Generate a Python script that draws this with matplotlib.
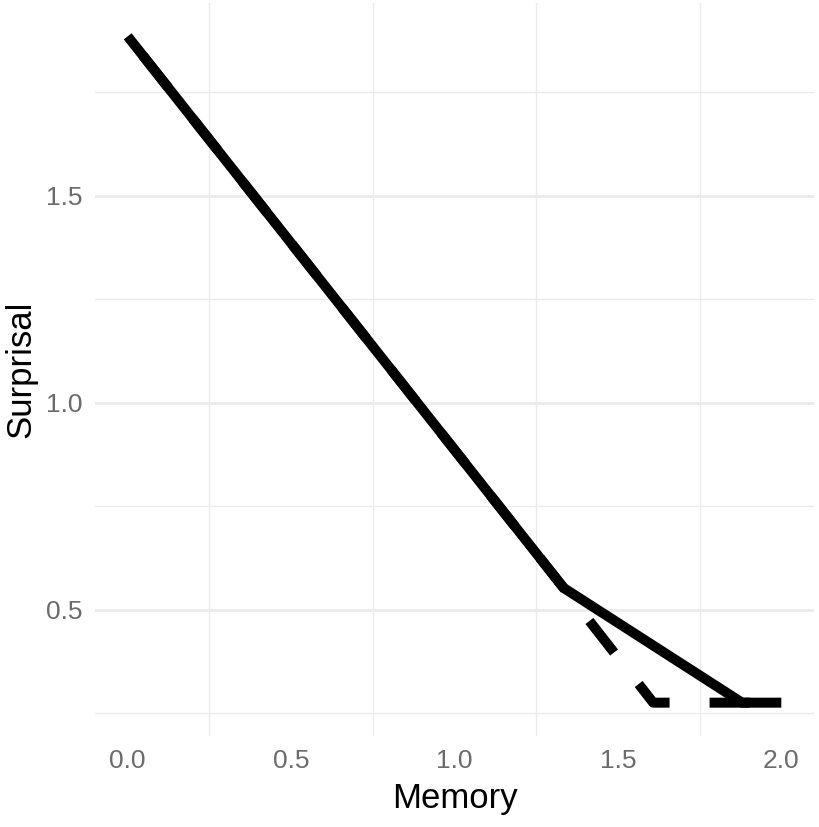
import matplotlib
matplotlib.use("Agg")
import matplotlib.pyplot as plt

# --- dados ---
mem_solid = [0.0, 1.334, 1.88, 2.0]
surp_solid = [1.885, 0.553, 0.276, 0.276]

mem_dash = [0.0, 1.334, 1.608, 2.0]
surp_dash = [1.885, 0.553, 0.276, 0.276]

x_ticks = [0.0, 0.5, 1.0, 1.5, 2.0]
x_labels = ["0.0", "0.5", "1.0", "1.5", "2.0"]
y_ticks = [0.5, 1.0, 1.5]
y_labels = ["0.5", "1.0", "1.5"]

plt.rcParams['font.family'] = ['Liberation Sans', 'DejaVu Sans']

fig = plt.figure(figsize=(8.19, 8.27), dpi=100)
ax = fig.add_axes([95 / 819, 1 - 736 / 827, (814 - 95) / 819, (736 - 3) / 827])

# linhas de grade (estilo theme_minimal)
grid_col = "#EBEBEB"
for yv in [0.25, 0.75, 1.25, 1.75]:
    ax.axhline(yv, color=grid_col, lw=1.0, zorder=0)
for yv in y_ticks:
    ax.axhline(yv, color=grid_col, lw=2.0, zorder=0)
for xv in [0.25, 0.75, 1.25, 1.75]:
    ax.axvline(xv, color=grid_col, lw=1.0, zorder=0)

ax.plot(mem_dash, surp_dash, color="black", lw=7.2, linestyle=(5.5, (4, 4)),
        dash_capstyle="butt", solid_joinstyle="round", zorder=2)
ax.plot(mem_solid, surp_solid, color="black", lw=7.2,
        solid_capstyle="butt", solid_joinstyle="round", zorder=3)

ax.set_xlim(-0.1, 2.1)
ax.set_ylim(0.1955, 1.9655)
ax.set_xticks(x_ticks)
ax.set_xticklabels(x_labels)
ax.set_yticks(y_ticks)
ax.set_yticklabels(y_labels)
ax.tick_params(length=0, labelsize=19, labelcolor="#6B6B6B", pad=9)

for s in ax.spines.values():
    s.set_visible(False)

ax.set_xlabel("Memory", fontsize=25, labelpad=7)
ax.set_ylabel("Surprisal", fontsize=25, labelpad=6)

fig.savefig("out.png", dpi=100)
